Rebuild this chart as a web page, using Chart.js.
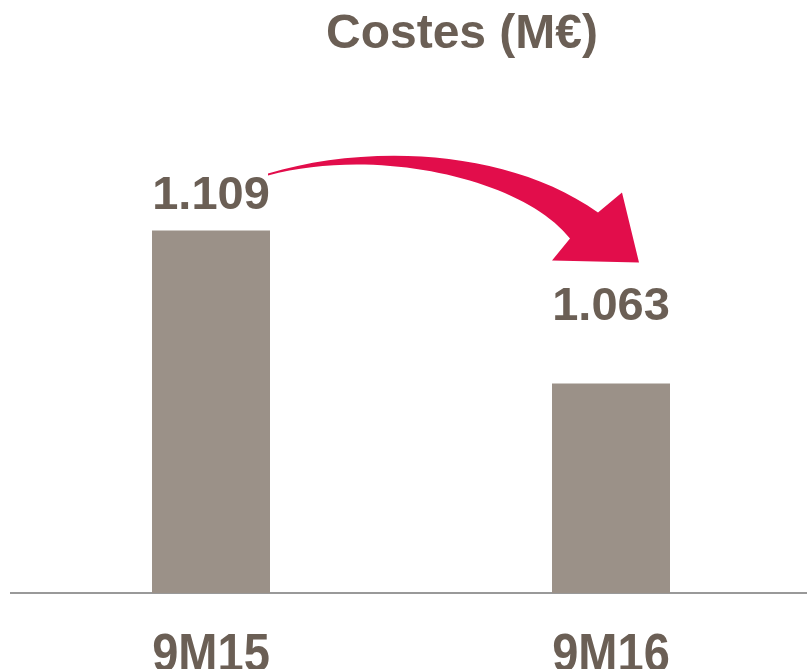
<!DOCTYPE html>
<html>
<head>
<meta charset="utf-8">
<script src="https://cdn.jsdelivr.net/npm/chart.js@4"></script>
<style>
    html, body { margin: 0; padding: 0; background: #fff; overflow: hidden; }
    #wrap { width: 811px; height: 669px; }
</style>
</head>
<body>
<div id="wrap"><canvas id="costs-chart" width="811" height="669"></canvas></div>
<script>
// Costes (M€) — 9M15 vs 9M16
const chartTitle = 'Costes (M€)';
const periods = ['9M15', '9M16'];
const costs = [1109, 1063];
const yMin = 1000;
const yMax = 1150;

const TEXT = '#6b5f55';
const BAR = '#9b9188';
const ARROW = '#e20d4b';
const FONT = "'Liberation Sans', Arial, sans-serif";

// 1109 -> "1.109"
const fmt = (v) => String(v).replace(/\B(?=(\d{3})+(?!\d))/g, '.');

// title, value labels, narrow category labels and the red arrow
const annotations = {
    id: 'annotations',
    afterDatasetsDraw(chart) {
        const { ctx, chartArea } = chart;
        const bars = chart.getDatasetMeta(0).data;
        const xScale = chart.scales.x;
        const gaps = [21, 63];

        ctx.save();
        ctx.fillStyle = TEXT;
        ctx.textAlign = 'center';
        ctx.textBaseline = 'alphabetic';

        // title sits a bit right of centre in the original
        ctx.font = `bold 48px ${FONT}`;
        ctx.fillText(chartTitle, (chartArea.left + chartArea.right) / 2 + 51, 48);

        ctx.font = `bold 47px ${FONT}`;
        bars.forEach((b, i) => {
            ctx.fillText(fmt(costs[i]), b.x, b.y - gaps[i]);
        });

        // condensed category labels (no narrow face installed)
        ctx.font = `bold 54px ${FONT}`;
        periods.forEach((p, i) => {
            ctx.save();
            ctx.translate(xScale.getPixelForTick(i), chartArea.bottom + 78);
            ctx.scale(0.87, 1);
            ctx.fillText(p, 0, 0);
            ctx.restore();
        });

        // curved arrow from 9M15 label down to 9M16
        const a = bars[0];
        const b = bars[1];
        ctx.fillStyle = ARROW;
        ctx.beginPath();
        ctx.moveTo(a.x + 57, a.y - 57);
        ctx.bezierCurveTo(a.x + 157, a.y - 87, b.x - 103, b.y - 235, b.x - 13, b.y - 171);
        ctx.lineTo(b.x + 11, b.y - 191);
        ctx.lineTo(b.x + 28, b.y - 121);
        ctx.lineTo(b.x - 59, b.y - 123);
        ctx.lineTo(b.x - 41, b.y - 145);
        ctx.bezierCurveTo(b.x - 86, b.y - 203, a.x + 169, a.y - 85, a.x + 57, a.y - 55);
        ctx.closePath();
        ctx.fill();
        ctx.restore();
    },
};

new Chart(document.getElementById('costs-chart'), {
    type: 'bar',
    data: {
        labels: periods,
        datasets: [
            {
                data: costs,
                backgroundColor: BAR,
                borderWidth: 0,
                barPercentage: 0.295,
                categoryPercentage: 1,
            },
        ],
    },
    options: {
        responsive: false,
        animation: false,
        layout: { padding: { left: 11, right: 0, top: 94, bottom: 76 } },
        plugins: {
            legend: { display: false },
            tooltip: { enabled: false },
            title: { display: false },
        },
        scales: {
            x: {
                grid: { display: false, drawTicks: false },
                border: { display: true, color: '#999999', width: 2 },
                ticks: { display: false },
            },
            y: {
                display: false,
                min: yMin,
                max: yMax,
            },
        },
    },
    plugins: [annotations],
});
</script>
</body>
</html>
